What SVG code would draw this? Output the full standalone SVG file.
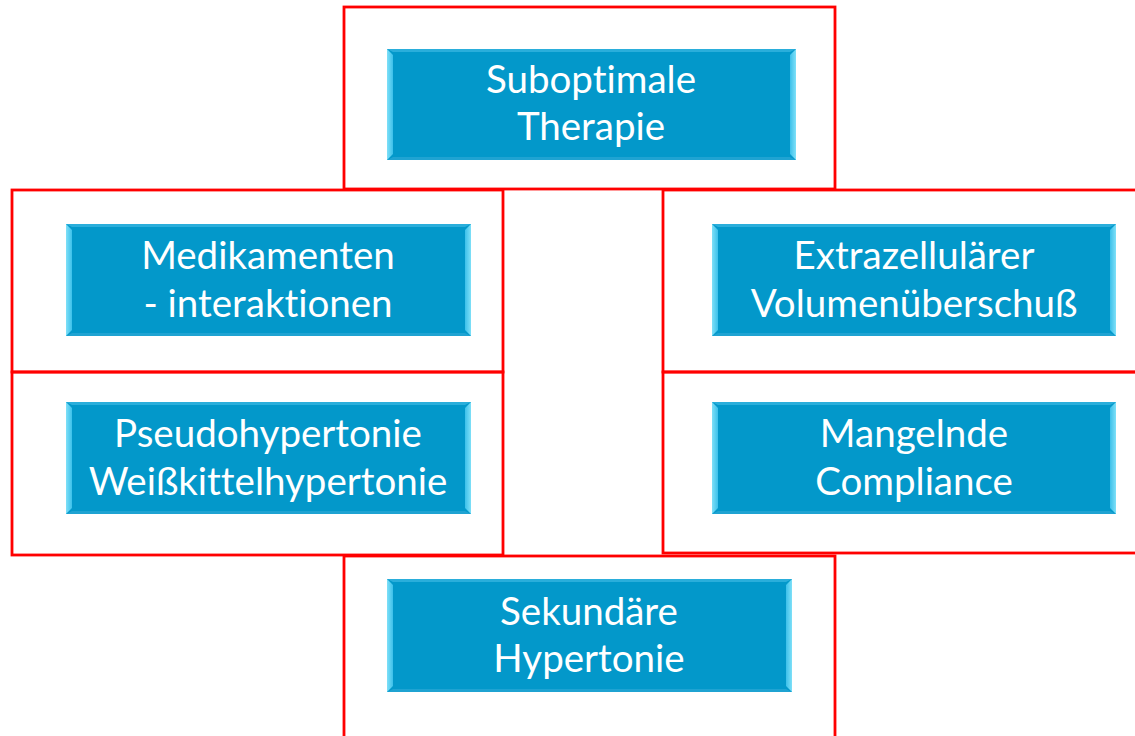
<svg xmlns="http://www.w3.org/2000/svg" width="1135" height="736" viewBox="0 0 1135 736">
<style>
.frame{fill:none;stroke:#FF0000;stroke-width:2.8}
.box{fill:#0398CA}
.topb{fill:#2AAEDB}
.botb{fill:#1FA3D2}
.lbl{font-family:Lato,"Open Sans",sans-serif;font-size:38.5px;fill:#FFFFFF;text-anchor:middle;font-variant-ligatures:none;font-feature-settings:"liga" 0}
</style>
<defs>
<linearGradient id="gl" x1="0" y1="0" x2="1" y2="0"><stop offset="0" stop-color="#7FE0F8"/><stop offset="1" stop-color="#3CC0EA"/></linearGradient>
<linearGradient id="gr" x1="1" y1="0" x2="0" y2="0"><stop offset="0" stop-color="#7FE0F8"/><stop offset="1" stop-color="#3CC0EA"/></linearGradient>
</defs>
<rect width="1135" height="736" fill="#FFFFFF"/>
<g id="connectors"></g>
<g id="n-suboptimal">
<rect class="frame" x="344" y="7" width="491" height="182"/>
<rect class="box" x="387" y="49" width="409" height="111"/>
<polygon class="topb" points="387,49 796,49 790,52 393,52"/>
<polygon class="botb" points="387,160 796,160 790,157 393,157"/>
<polygon fill="url(#gl)" points="387,49 393,55 393,154 387,160"/>
<polygon fill="url(#gr)" points="796,49 790,55 790,154 796,160"/>
<text class="lbl" x="591" y="93">Suboptimale</text>
<text class="lbl" x="591" y="140">Therapie</text>
</g>
<g id="n-medikamente">
<rect class="frame" x="12" y="190" width="491" height="182"/>
<rect class="box" x="66" y="224" width="405" height="112"/>
<polygon class="topb" points="66,224 471,224 465,227 72,227"/>
<polygon class="botb" points="66,336 471,336 465,333 72,333"/>
<polygon fill="url(#gl)" points="66,224 72,230 72,330 66,336"/>
<polygon fill="url(#gr)" points="471,224 465,230 465,330 471,336"/>
<text class="lbl" x="268" y="269">Medikamenten</text>
<text class="lbl" x="268" y="317">- interaktionen</text>
</g>
<g id="n-extrazellulaer">
<rect class="frame" x="663" y="190" width="480" height="182"/>
<rect class="box" x="712" y="224" width="404" height="112"/>
<polygon class="topb" points="712,224 1116,224 1110,227 718,227"/>
<polygon class="botb" points="712,336 1116,336 1110,333 718,333"/>
<polygon fill="url(#gl)" points="712,224 718,230 718,330 712,336"/>
<polygon fill="url(#gr)" points="1116,224 1110,230 1110,330 1116,336"/>
<text class="lbl" x="914" y="269">Extrazellulärer</text>
<text class="lbl" x="914" y="317">Volumenüberschuß</text>
</g>
<g id="n-pseudo">
<rect class="frame" x="12" y="372" width="491" height="183"/>
<rect class="box" x="66" y="402" width="405" height="112"/>
<polygon class="topb" points="66,402 471,402 465,405 72,405"/>
<polygon class="botb" points="66,514 471,514 465,511 72,511"/>
<polygon fill="url(#gl)" points="66,402 72,408 72,508 66,514"/>
<polygon fill="url(#gr)" points="471,402 465,408 465,508 471,514"/>
<text class="lbl" x="268" y="447">Pseudohypertonie</text>
<text class="lbl" x="268" y="495">Weißkittelhypertonie</text>
</g>
<g id="n-compliance">
<rect class="frame" x="663" y="372" width="480" height="181"/>
<rect class="box" x="712" y="402" width="404" height="112"/>
<polygon class="topb" points="712,402 1116,402 1110,405 718,405"/>
<polygon class="botb" points="712,514 1116,514 1110,511 718,511"/>
<polygon fill="url(#gl)" points="712,402 718,408 718,508 712,514"/>
<polygon fill="url(#gr)" points="1116,402 1110,408 1110,508 1116,514"/>
<text class="lbl" x="914" y="447">Mangelnde</text>
<text class="lbl" x="914" y="495">Compliance</text>
</g>
<g id="n-sekundaer">
<rect class="frame" x="344" y="556" width="491" height="190"/>
<rect class="box" x="387" y="579" width="405" height="113"/>
<polygon class="topb" points="387,579 792,579 786,582 393,582"/>
<polygon class="botb" points="387,692 792,692 786,689 393,689"/>
<polygon fill="url(#gl)" points="387,579 393,585 393,686 387,692"/>
<polygon fill="url(#gr)" points="792,579 786,585 786,686 792,692"/>
<text class="lbl" x="589" y="625">Sekundäre</text>
<text class="lbl" x="589" y="672">Hypertonie</text>
</g>
</svg>
